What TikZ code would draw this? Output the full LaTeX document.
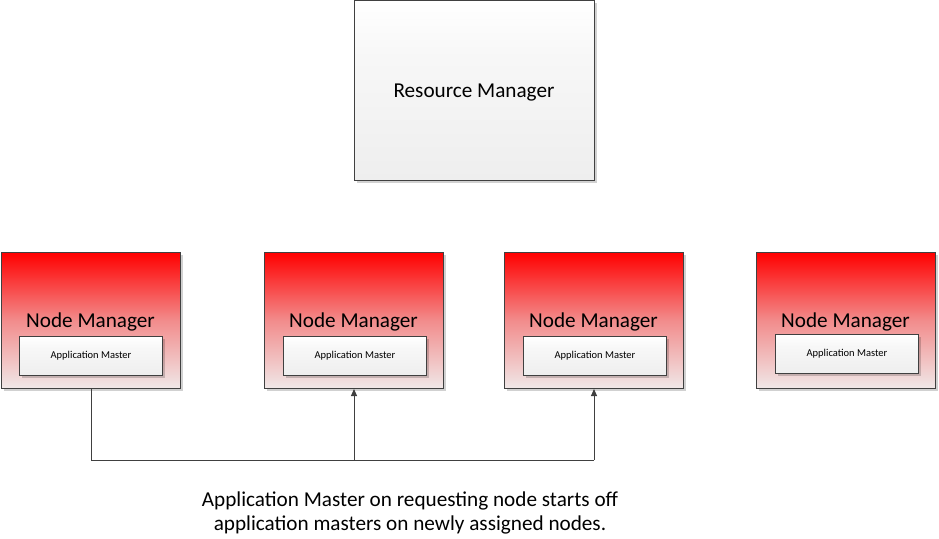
\documentclass[tikz,border=0pt]{standalone}
\usepackage{fontspec}
\setmainfont{Carlito}
\usetikzlibrary{arrows.meta,shadows}
\definecolor{edge}{HTML}{404040}
\definecolor{rmbot}{HTML}{EEEEEE}
\definecolor{nmbot}{HTML}{F0E8E8}
\definecolor{nmmid}{HTML}{F28C8C}
\pgfdeclareverticalshading{nmshade}{100bp}{color(0bp)=(nmbot); color(25bp)=(nmbot); color(50bp)=(nmmid); color(75bp)=(red); color(100bp)=(red)}
\pgfdeclareverticalshading{rmshade}{100bp}{color(0bp)=(rmbot); color(25bp)=(rmbot); color(60bp)=(white!97!black); color(75bp)=(white); color(100bp)=(white)}
\tikzset{
  x=1pt,y=-1pt,
  shade/.style={drop shadow={shadow xshift=2pt,shadow yshift=-2pt,fill=black,opacity=0.18}},
  rmbox/.style={draw=edge,line width=1pt,shading=rmshade,shade,
     minimum width=240pt,minimum height=180pt,anchor=north west,inner sep=0pt},
  nmbox/.style={draw=edge,line width=1pt,shading=nmshade,shade,
     minimum width=179pt,minimum height=136pt,anchor=north west,inner sep=0pt},
  bigtext/.style={font=\fontsize{21.2}{24}\selectfont,inner sep=0pt},
  ambox/.style={draw=edge,line width=1pt,shading=rmshade,shade,
     minimum width=143pt,minimum height=39pt,anchor=north west,inner sep=0pt,
     font=\fontsize{10.5}{12}\selectfont},
  conn/.style={draw=edge,line width=1pt},
  arr/.style={conn,-{Triangle[width=6pt,length=7pt]}},
}
\begin{document}
\begin{tikzpicture}
\useasboundingbox (0,0) rectangle (939,538);
\node[rmbox] (rm) at (354,0) {};
\node[bigtext] (rmt) at (474,93) {Resource Manager};
% node managers
\node[nmbox] (nm1) at (1,252) {};
\node[nmbox] (nm2) at (264,252) {};
\node[nmbox] (nm3) at (504,252) {};
\node[nmbox] (nm4) at (756,252) {};
\node[bigtext] (nt1) at (90.5,322) {Node Manager};
\node[bigtext] (nt2) at (353.5,322) {Node Manager};
\node[bigtext] (nt3) at (593.5,322) {Node Manager};
\node[bigtext] (nt4) at (845.5,322) {Node Manager};
\node[ambox] (am1) at (19,336) {Application Master};
\node[ambox] (am2) at (283,336) {Application Master};
\node[ambox] (am3) at (523,336) {Application Master};
\node[ambox] (am4) at (775,334) {Application Master};
% connectors
\coordinate (j1) at (91,460);
\coordinate (j2) at (354,460);
\coordinate (j3) at (594,460);
\draw[conn] (nm1.south -| j1) -- (j1) -- (j3);
\draw[arr] (j2) -- (nm2.south -| j2);
\draw[arr] (j3) -- (nm3.south -| j3);
\node[bigtext,align=center] (cap) at (410,513)
  {Application Master on requesting node starts off\\application masters on newly assigned nodes.};
\end{tikzpicture}
\end{document}
